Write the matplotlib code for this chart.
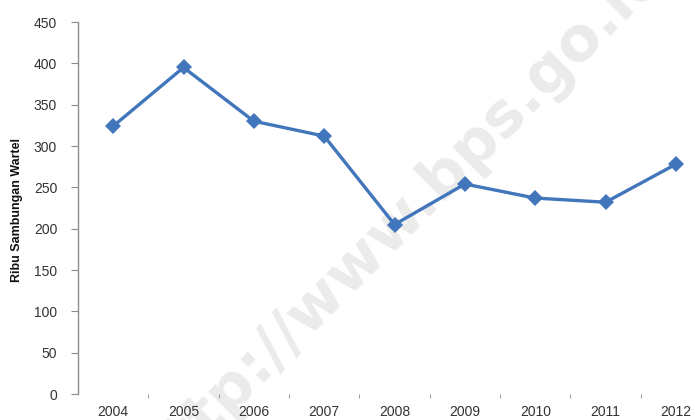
import matplotlib.pyplot as plt
from matplotlib.ticker import FixedLocator

# Jumlah sambungan wartel (ribu), 2004-2012
years = ["2004", "2005", "2006", "2007", "2008", "2009", "2010", "2011", "2012"]
wartel = [324, 395, 330, 312, 205, 254, 237, 232, 278]
y_ticks = [0, 50, 100, 150, 200, 250, 300, 350, 400, 450]

plt.rcParams['font.family'] = ['Liberation Sans Narrow', 'Liberation Sans', 'DejaVu Sans']

fig = plt.figure(figsize=(6.95, 4.2), dpi=100)
# the plot area runs off the right edge of the figure
ax = fig.add_axes([0.1122, 0.0619, 0.911, 0.8857])
ax.patch.set_visible(False)

x = list(range(len(years)))
ax.plot(x, wartel, color="#4276BC", linewidth=2.4, marker="D", markersize=8.5,
        markeredgewidth=0, zorder=3)

ax.set_xlim(-0.5, len(years) - 0.5)
ax.set_ylim(0, 450)
ax.set_yticks(y_ticks)
ax.set_xticks(x)
ax.set_xticklabels(years)
ax.xaxis.set_minor_locator(FixedLocator([i + 0.5 for i in x[:-1]]))

for side in ["top", "right", "bottom"]:
    ax.spines[side].set_visible(False)
ax.spines["left"].set_color("#8c8c8c")
ax.spines["left"].set_linewidth(1.0)

ax.tick_params(axis="y", direction="out", length=5, color="#8c8c8c",
               labelsize=10, labelcolor="#333333", pad=10)
ax.tick_params(axis="x", which="major", length=0, labelsize=10,
               labelcolor="#333333", pad=8)
ax.tick_params(axis="x", which="minor", direction="out", length=3,
               color="#8c8c8c")

fig.text(0.025, 0.5, "Ribu Sambungan Wartel", rotation=90, ha="center",
         va="center", fontsize=9, fontweight="bold", color="#111111")

# watermark, kept behind the line
ax.text(0.575, 0.48, "http://www.bps.go.id", rotation=45, ha="center",
        va="center", fontsize=44, fontweight="bold", color="#ebebeb",
        family=["DejaVu Sans"], transform=fig.transFigure, clip_on=False,
        zorder=1)

fig.savefig("out.png", dpi=100)
